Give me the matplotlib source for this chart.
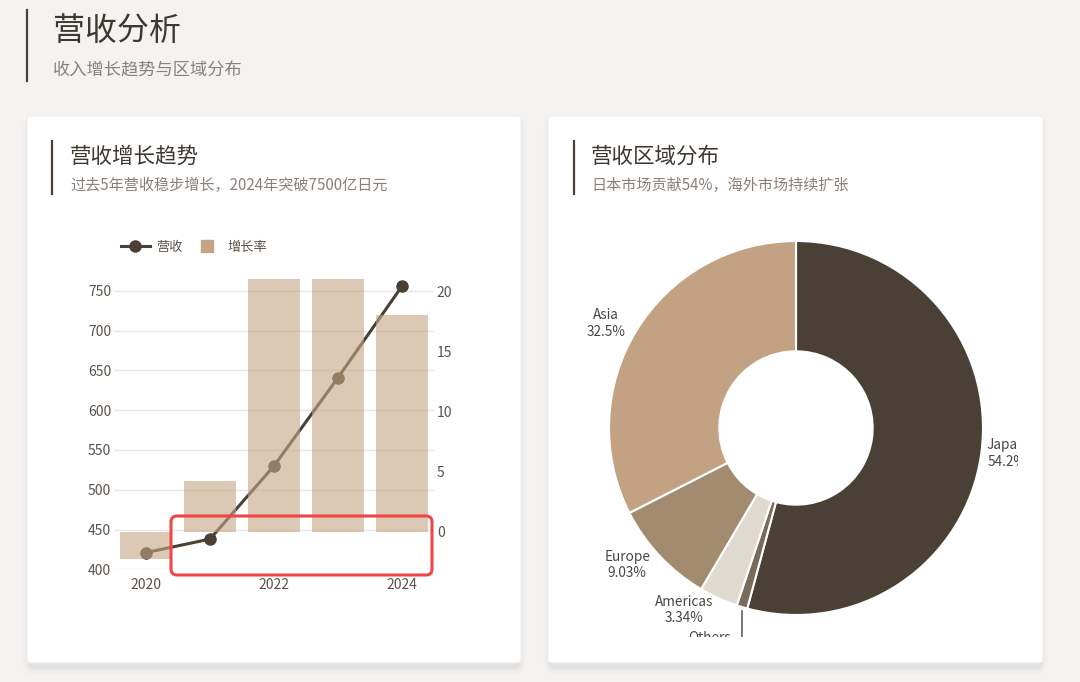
import matplotlib
matplotlib.use('Agg')
import matplotlib.pyplot as plt
from matplotlib.patches import FancyBboxPatch
from matplotlib.lines import Line2D
from matplotlib.transforms import IdentityTransform
import numpy as np

plt.rcParams['font.family'] = ['Noto Sans CJK SC', 'DejaVu Sans']

# --- data ---
years = ['2020', '2021', '2022', '2023', '2024']
revenue = [421, 438, 530, 641, 756]          # 亿日元
growth = [-2.3, 4.2, 21.0, 21.0, 18.0]       # %

regions = ['Japan', 'Others', 'Americas', 'Europe', 'Asia']
shares = [54.2, 0.93, 3.34, 9.03, 32.5]
share_labels = ['54.2%', '0.93%', '3.34%', '9.03%', '32.5%']

# --- colours ---
BG = '#f5f3f1'
DARK = '#4a4036'
TAN = '#c4a484'
GREY_TXT = '#8a8078'
TICK_TXT = '#5a524a'
region_colors = ['#4a4036', '#7a6a5a', '#e0d9cf', '#a38b6f', '#c2a283']

W, H = 1080, 682


def fx(x):
    return x / W


def fy(y):
    return 1 - y / H


def card(fig, x0, y0, x1, y1):
    # soft shadow, then white card (pixel coords, y down)
    for i, a in enumerate([0.03, 0.02, 0.013, 0.008]):
        g = 1 + i * 2
        fig.patches.append(FancyBboxPatch(
            (x0 - g + 2, H - y1 - g - 5), x1 - x0 + 2 * g - 4, y1 - y0 + 2 * g - 2,
            boxstyle='round,pad=0,rounding_size=%d' % (4 + g),
            transform=IdentityTransform(), facecolor='black', edgecolor='none',
            alpha=a, zorder=-2))
    fig.patches.append(FancyBboxPatch(
        (x0, H - y1), x1 - x0, y1 - y0, boxstyle='round,pad=0,rounding_size=4',
        transform=IdentityTransform(), facecolor='white', edgecolor='#eeebe8',
        linewidth=0.6, zorder=-1))


def heading(fig, x_bar, x_txt, y_top, y_bot, title, sub, tsize, ssize, ty, sy):
    fig.add_artist(Line2D([fx(x_bar), fx(x_bar)], [fy(y_top), fy(y_bot)],
                          color=DARK, lw=1.6, zorder=2))
    fig.text(fx(x_txt), fy(ty), title, fontsize=tsize, color='#3e3832',
             va='center', ha='left', zorder=3)
    fig.text(fx(x_txt), fy(sy), sub, fontsize=ssize, color=GREY_TXT,
             va='center', ha='left', zorder=3)


fig = plt.figure(figsize=(W / 100, H / 100), dpi=100)
fig.patch.set_facecolor(BG)

heading(fig, 27, 53, 10, 81, '营收分析', '收入增长趋势与区域分布', 23, 12.4, 31, 70)

card(fig, 27, 116, 521, 663)
card(fig, 548, 116, 1043, 663)

heading(fig, 52, 70, 141, 194, '营收增长趋势', '过去5年营收稳步增长，2024年突破7500亿日元',
        15.5, 10.9, 157, 185)
heading(fig, 574, 591, 141, 194, '营收区域分布', '日本市场贡献54%，海外市场持续扩张',
        15.5, 10.9, 157, 185)

# --- left: revenue line + growth bars ---
ax = fig.add_axes([fx(114), fy(569.3), 320 / W, 290.3 / H])
ax.set_zorder(5)
ax.set_facecolor('none')
x = np.arange(len(years))
ax.plot(x, revenue, color=DARK, lw=2.2, marker='o', markersize=8, zorder=2)
ax.set_xlim(-0.5, len(years) - 0.5)
ax.set_ylim(400, 765)
ax.set_yticks(np.arange(400, 751, 50))
ax.grid(axis='y', color='#e6e6e6', lw=1)
ax.set_axisbelow(True)
ax.set_xticks(x[::2])
ax.set_xticklabels(years[::2])
ax.tick_params(axis='both', length=0, labelsize=10, colors=TICK_TXT)
ax.tick_params(axis='x', pad=6)
ax.tick_params(axis='y', pad=2)
for s in ax.spines.values():
    s.set_visible(False)

axr = ax.twinx()
axr.set_zorder(6)
axr.bar(x, growth, width=0.8, color=TAN, alpha=0.6, zorder=3)
axr.set_ylim(-3.13, 21.0)
axr.set_yticks([0, 5, 10, 15, 20])
axr.tick_params(axis='y', length=0, labelsize=10, colors=TICK_TXT, pad=2)
for s in axr.spines.values():
    s.set_visible(False)

handles = [Line2D([], [], color=DARK, lw=2.2, marker='o', markersize=8),
           Line2D([], [], color=TAN, marker='s', linestyle='none', markersize=8)]
fig.legend(handles, ['营收', '增长率'], loc='center left',
           bbox_to_anchor=(fx(109), fy(247)), ncol=2, frameon=False,
           fontsize=9.5, handlelength=2.2, handletextpad=0.5, columnspacing=0.7,
           labelcolor=TICK_TXT)

# highlight box
fig.patches.append(FancyBboxPatch(
    (171, H - 575), 261, 59, boxstyle='round,pad=0,rounding_size=6',
    transform=IdentityTransform(), facecolor='none', edgecolor='#ef4747',
    linewidth=2.2, zorder=10))

# --- right: regional donut ---
cx, cy, R = 796, 428, 187
axp = fig.add_axes([fx(548), fy(637), (1018 - 548) / W, (637 - 205) / H])
axp.set_zorder(5)
wedges, _ = axp.pie(shares, colors=region_colors, startangle=90, counterclock=False,
                    radius=1, wedgeprops=dict(width=0.59, edgecolor='white', linewidth=1.5))
axp.axis('off')
axp.set_aspect('auto')
axp.set_xlim((548 - cx) / R, (1018 - cx) / R)
axp.set_ylim(-(637 - cy) / R, (cy - 205) / R)

for w, name, lab in zip(wedges, regions, share_labels):
    mid = np.deg2rad((w.theta1 + w.theta2) / 2)
    ca, sa = np.cos(mid), np.sin(mid)
    if name == 'Others':
        axp.plot([ca, ca], [sa - 0.02, -1.3], color='#6a5e52', lw=1.2, clip_on=True)
        axp.text(ca - 0.06, -1.085, name + '\n' + lab, ha='right', va='top',
                 fontsize=9.8, color='#4a4540', multialignment='center', clip_on=True)
        continue
    r = 1.07 if ca < 0 else 1.03
    ha = 'left' if ca > 0 else 'right'
    axp.text(r * ca, r * sa, name + '\n' + lab, ha=ha, va='center', fontsize=9.8,
             color='#4a4540', multialignment='center', linespacing=1.25, clip_on=True)

fig.savefig('out.png', dpi=100, facecolor=BG)
